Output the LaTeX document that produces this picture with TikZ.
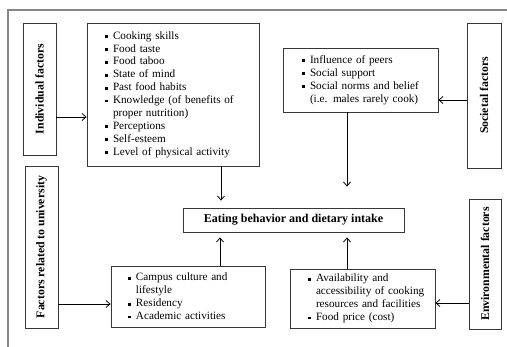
\documentclass[tikz,border=0pt]{standalone}
\usepackage{fontspec}
\setmainfont{Liberation Serif}
\usetikzlibrary{arrows.meta,positioning}
\definecolor{boxgray}{RGB}{55,55,55}
\definecolor{framegray}{RGB}{135,135,135}
\tikzset{
  factor/.style={draw=boxgray,line width=0.8pt,inner sep=0pt,
    font=\fontsize{11.8}{13.5}\selectfont\bfseries},
  listbox/.style={draw=boxgray,line width=0.8pt,align=left,inner ysep=0pt,
    font=\fontsize{11.2}{12.9}\selectfont},
  mainbox/.style={draw=boxgray,line width=0.8pt,inner sep=0pt,
    font=\fontsize{12}{14}\selectfont\bfseries},
  flow/.style={-{Straight Barb[length=4pt,width=7pt]},line width=0.8pt,draw=black},
  frameline/.style={draw=framegray,line width=1.1pt}
}
\newcommand{\itm}[1]{\makebox[8pt][l]{\rule[1.2pt]{2.8pt}{2.8pt}}\mbox{#1}}
\newcommand{\cnt}[1]{\hspace*{8pt}\mbox{#1}}

\begin{document}
\begin{tikzpicture}[x=1pt,y=-1pt]
  \useasboundingbox (0,0) rectangle (507,347);
  \draw[frameline] (8,347) -- (8,10) -- (507,10);
  % factor boxes
  \node[factor,minimum width=33pt,minimum height=132pt] (indf) at (39.5,89)
    {\rotatebox{90}{Individual factors}};
  \node[factor,minimum width=34pt,minimum height=145pt] (socf) at (484,95.5)
    {\rotatebox{90}{Societal factors}};
  \node[factor,minimum width=33pt,minimum height=162pt] (unif) at (41.5,247)
    {\rotatebox{90}{Factors related to university}};
  \node[factor,minimum width=32pt,minimum height=130pt] (envf) at (485,264)
    {\rotatebox{90}{Environmental factors}};
  % lists
  \node[listbox,text width=136pt,inner xsep=18pt,minimum height=143pt] (indl) at (173,94.5)
    {\itm{Cooking skills}\\ \itm{Food taste}\\ \itm{Food taboo}\\ \itm{State of mind}\\
     \itm{Past food habits}\\ \itm{Knowledge (of benefits of}\\ \cnt{proper nutrition)}\\
     \itm{Perceptions}\\ \itm{Self-esteem}\\ \itm{Level of physical activity}};
  \node[listbox,text width=117pt,inner xsep=19pt,minimum height=64pt] (socl) at (360.5,80)
    {\itm{Influence of peers}\\ \itm{Social support}\\ \itm{Social norms and belief}\\
     \cnt{(i.e. males rarely cook)}};
  \node[listbox,text width=120pt,inner xsep=17pt,minimum height=61pt] (unil) at (188,296.5)
    {\itm{Campus culture and}\\ \cnt{lifestyle}\\ \itm{Residency}\\ \itm{Academic activities}};
  \node[listbox,text width=109pt,inner xsep=18pt,minimum height=59pt] (envl) at (362.5,298.5)
    {\itm{Availability and}\\ \cnt{accessibility of cooking}\\ \cnt{resources and facilities}\\
     \itm{Food price (cost)}};
  % outcome
  \node[mainbox,minimum width=221pt,minimum height=24pt] (eat) at (293.5,220)
    {Eating behavior and dietary intake};
  % arrows
  \draw[flow] (indf.east |- 0,117) -- (indl.west |- 0,117);
  \draw[flow] (socf.west |- 0,100) -- (socl.east |- 0,100);
  \draw[flow] (unif.east |- 0,304) -- (unil.west |- 0,304);
  \draw[flow] (envf.west |- 0,303) -- (envl.east |- 0,303);
  \draw[flow,shorten >=7pt] (221,0 |- indl.south) -- (221,0 |- eat.north);
  \draw[flow,shorten >=21pt] (347,0 |- socl.south) -- (347,0 |- eat.north);
  \draw[flow,shorten >=5pt] (220,0 |- unil.north) -- (220,0 |- eat.south);
  \draw[flow,shorten >=5pt] (347,0 |- envl.north) -- (347,0 |- eat.south);
\end{tikzpicture}
\end{document}
